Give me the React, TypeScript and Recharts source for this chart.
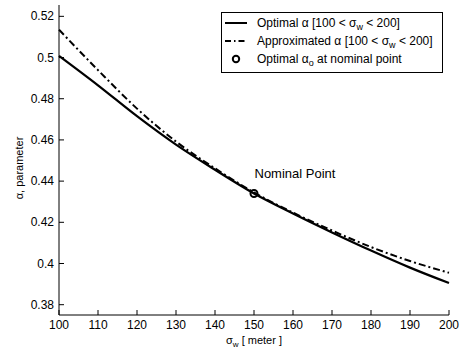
import { ComposedChart, Line, XAxis, YAxis, ReferenceDot, Legend } from 'recharts';

const sigmaW = [100, 110, 120, 130, 140, 150, 160, 170, 180, 190, 200];
const optimalAlpha = [0.5008, 0.4865, 0.4715, 0.4577, 0.4455, 0.434, 0.4243, 0.4151, 0.4063, 0.398, 0.3905];
const approxAlpha = [0.5135, 0.4939, 0.4752, 0.4592, 0.4462, 0.4345, 0.4247, 0.416, 0.408, 0.4012, 0.3955];
const nominalSigma = 150;
const nominalAlpha = 0.434;
const xTicks = [100, 110, 120, 130, 140, 150, 160, 170, 180, 190, 200];
const yTicks = [0.38, 0.4, 0.42, 0.44, 0.46, 0.48, 0.5, 0.52];

const FONT = '"Liberation Sans", Arial, sans-serif';

const rows = sigmaW.map((x, i) => ({ x, optimal: optimalAlpha[i], approx: approxAlpha[i] }));

const fmtY = (v: number) => String(Number(v.toFixed(2)));

function BottomTick({ x, y, payload }: any) {
  return (
    <g>
      <line x1={x} x2={x} y1={y} y2={y - 5} stroke="#000" />
      <text x={x} y={y + 14} textAnchor="middle" fontSize={12} fontFamily={FONT} fill="#000">
        {payload.value}
      </text>
    </g>
  );
}

function TopTick({ x, y }: any) {
  return <line x1={x} x2={x} y1={y} y2={y + 5} stroke="#000" />;
}

function LeftTick({ x, y, payload }: any) {
  return (
    <g>
      <line x1={x} x2={x + 5} y1={y} y2={y} stroke="#000" />
      <text x={x - 5} y={y + 4} textAnchor="end" fontSize={12} fontFamily={FONT} fill="#000">
        {fmtY(payload.value)}
      </text>
    </g>
  );
}

function RightTick({ x, y }: any) {
  return <line x1={x} x2={x - 5} y1={y} y2={y} stroke="#000" />;
}

function LegendBox() {
  return (
    <svg width={223} height={62} style={{ display: 'block' }}>
      <rect x={0.5} y={0.5} width={221} height={60} fill="#fff" stroke="#000" />
      <line x1={4} x2={26} y1={11} y2={11} stroke="#000" strokeWidth={2} />
      <text x={36} y={15} fontSize={12} fontFamily={FONT} fill="#000">
        Optimal α [100 &lt; σ<tspan dy={3} fontSize={9}>w</tspan><tspan dy={-3}> &lt; 200]</tspan>
      </text>
      <line x1={4} x2={26} y1={29} y2={29} stroke="#000" strokeWidth={2} strokeDasharray="6 3 1.5 3" />
      <text x={36} y={33} fontSize={12} fontFamily={FONT} fill="#000">
        Approximated α [100 &lt; σ<tspan dy={3} fontSize={9}>w</tspan><tspan dy={-3}> &lt; 200]</tspan>
      </text>
      <circle cx={15} cy={47} r={3.2} fill="#fff" stroke="#000" strokeWidth={2} />
      <text x={36} y={51} fontSize={12} fontFamily={FONT} fill="#000">
        Optimal α<tspan dy={3} fontSize={9}>o</tspan><tspan dy={-3}> at nominal point</tspan>
      </text>
    </svg>
  );
}

function XLabel() {
  return (
    <text x={254} y={344} textAnchor="middle" fontSize={11} fontFamily={FONT} fill="#000">
      σ<tspan dy={3} fontSize={8}>w</tspan><tspan dy={-3}> [ meter ]</tspan>
    </text>
  );
}

function YLabel() {
  return (
    <text x={0} y={0} transform="translate(23,168) rotate(-90)" textAnchor="middle" fontSize={11} fontFamily={FONT} fill="#000">
      α, parameter
    </text>
  );
}

export default function App() {
  return (
    <div style={{ position: 'absolute', left: 0, top: 0, width: 465, height: 351, background: '#fff' }}>
      <ComposedChart width={465} height={351} data={rows} margin={{ top: 5, right: 16, bottom: 0, left: 0 }}>
        <XAxis
          dataKey="x"
          type="number"
          domain={[100, 200]}
          ticks={xTicks}
          height={36}
          tickSize={0}
          tickMargin={0}
          tickLine={false}
          tick={<BottomTick />}
          axisLine={{ stroke: '#000' }}
          label={<XLabel />}
          interval={0}
        />
        <XAxis
          xAxisId="top"
          orientation="top"
          dataKey="x"
          type="number"
          domain={[100, 200]}
          ticks={xTicks}
          height={0}
          tickSize={0}
          tickMargin={0}
          tickLine={false}
          tick={<TopTick />}
          axisLine={{ stroke: '#000' }}
          interval={0}
        />
        <YAxis
          type="number"
          domain={[0.375, 0.5255]}
          ticks={yTicks}
          width={59}
          tickSize={0}
          tickMargin={0}
          tickLine={false}
          tick={<LeftTick />}
          axisLine={{ stroke: '#000' }}
          label={<YLabel />}
          interval={0}
          allowDataOverflow
        />
        <YAxis
          yAxisId="right"
          orientation="right"
          type="number"
          domain={[0.375, 0.5255]}
          ticks={yTicks}
          width={0}
          tickSize={0}
          tickMargin={0}
          tickLine={false}
          tick={<RightTick />}
          axisLine={{ stroke: '#000' }}
          interval={0}
          allowDataOverflow
        />
        <Line
          dataKey="optimal"
          type="monotone"
          stroke="#000"
          strokeWidth={2.2}
          dot={false}
          isAnimationActive={false}
        />
        <Line
          dataKey="approx"
          type="monotone"
          stroke="#000"
          strokeWidth={2}
          strokeDasharray="7 3 2 3"
          dot={false}
          isAnimationActive={false}
        />
        <ReferenceDot
          x={nominalSigma}
          y={nominalAlpha}
          r={3.5}
          fill="none"
          stroke="#000"
          strokeWidth={2}
          label={{ value: 'Nominal Point', position: 'insideBottomLeft', dx: -1, dy: -14, fontSize: 13, fontFamily: FONT, fill: '#000' }}
        />
        <Legend
          layout="vertical"
          align="center"
          verticalAlign="middle"
          content={() => <LegendBox />}
          wrapperStyle={{ left: 221, top: 12, width: 223, height: 62 }}
        />
      </ComposedChart>
    </div>
  );
}
